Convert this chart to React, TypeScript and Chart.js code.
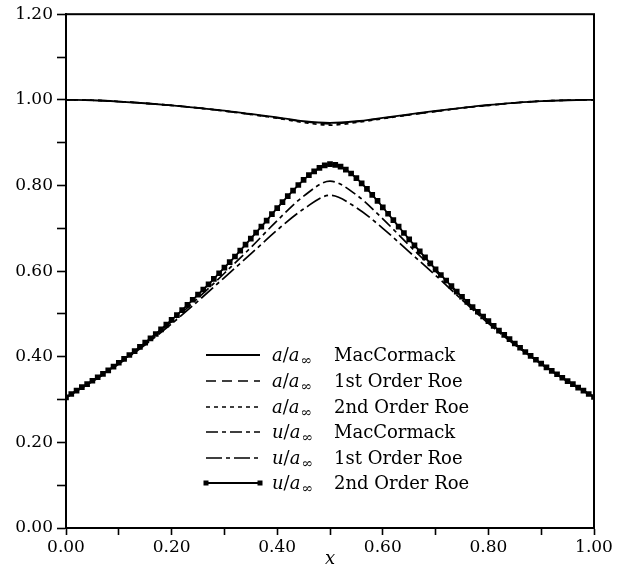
import { useEffect, useRef } from 'react';
import { Chart, registerables } from 'chart.js';

Chart.register(...registerables);

// ---------- data ----------
const X_COARSE = [0.0, 0.05, 0.1, 0.15, 0.2, 0.25, 0.3, 0.35, 0.4, 0.45, 0.5, 0.55, 0.6, 0.65, 0.7, 0.75, 0.8, 0.85, 0.9, 0.95, 1.0];

const X_FINE = [
  0.0, 0.01, 0.02, 0.03, 0.04, 0.05, 0.06, 0.07, 0.08, 0.09,
  0.1, 0.11, 0.12, 0.13, 0.14, 0.15, 0.16, 0.17, 0.18, 0.19,
  0.2, 0.21, 0.22, 0.23, 0.24, 0.25, 0.26, 0.27, 0.28, 0.29,
  0.3, 0.31, 0.32, 0.33, 0.34, 0.35, 0.36, 0.37, 0.38, 0.39,
  0.4, 0.41, 0.42, 0.43, 0.44, 0.45, 0.46, 0.47, 0.48, 0.49,
  0.5, 0.51, 0.52, 0.53, 0.54, 0.55, 0.56, 0.57, 0.58, 0.59,
  0.6, 0.61, 0.62, 0.63, 0.64, 0.65, 0.66, 0.67, 0.68, 0.69,
  0.7, 0.71, 0.72, 0.73, 0.74, 0.75, 0.76, 0.77, 0.78, 0.79,
  0.8, 0.81, 0.82, 0.83, 0.84, 0.85, 0.86, 0.87, 0.88, 0.89,
  0.9, 0.91, 0.92, 0.93, 0.94, 0.95, 0.96, 0.97, 0.98, 0.99,
  1.0,
];

const A_MACCORMACK = [1.0, 0.999, 0.996, 0.992, 0.987, 0.981, 0.975, 0.967, 0.959, 0.95, 0.946, 0.95, 0.958, 0.966, 0.974, 0.981, 0.988, 0.993, 0.997, 0.999, 1.0];
const A_ROE1 = [1.0, 0.999, 0.996, 0.992, 0.987, 0.981, 0.974, 0.966, 0.958, 0.949, 0.944, 0.949, 0.957, 0.965, 0.973, 0.981, 0.987, 0.993, 0.997, 0.999, 1.0];
const A_ROE2 = [1.0, 0.999, 0.996, 0.992, 0.987, 0.981, 0.974, 0.966, 0.957, 0.947, 0.941, 0.947, 0.956, 0.965, 0.973, 0.981, 0.987, 0.993, 0.997, 0.999, 1.0];

const U_MACCORMACK = [0.305, 0.343, 0.385, 0.431, 0.482, 0.537, 0.595, 0.655, 0.718, 0.775, 0.81, 0.778, 0.722, 0.66, 0.6, 0.538, 0.481, 0.43, 0.384, 0.342, 0.306];
const U_ROE1 = [0.305, 0.342, 0.383, 0.428, 0.477, 0.53, 0.585, 0.64, 0.696, 0.745, 0.777, 0.748, 0.7, 0.645, 0.59, 0.533, 0.478, 0.428, 0.383, 0.342, 0.306];

const U_ROE2 = [
  0.305, 0.313, 0.321, 0.329, 0.336, 0.344, 0.352, 0.36, 0.368, 0.377,
  0.386, 0.395, 0.404, 0.413, 0.423, 0.433, 0.443, 0.453, 0.464, 0.475,
  0.486, 0.497, 0.509, 0.521, 0.533, 0.545, 0.557, 0.569, 0.582, 0.595,
  0.608, 0.621, 0.634, 0.648, 0.662, 0.676, 0.69, 0.704, 0.718, 0.733,
  0.747, 0.761, 0.775, 0.788, 0.801, 0.813, 0.824, 0.833, 0.841, 0.847,
  0.85, 0.848, 0.844, 0.837, 0.828, 0.817, 0.805, 0.792, 0.778, 0.764,
  0.749, 0.734, 0.719, 0.704, 0.689, 0.674, 0.66, 0.646, 0.632, 0.618,
  0.604, 0.591, 0.578, 0.565, 0.552, 0.54, 0.528, 0.516, 0.505, 0.494,
  0.483, 0.472, 0.461, 0.451, 0.441, 0.431, 0.421, 0.411, 0.402, 0.393,
  0.384, 0.375, 0.367, 0.359, 0.351, 0.343, 0.336, 0.328, 0.321, 0.313,
  0.306,
];

const X_TICK_LABELS = ['0.00', '0.20', '0.40', '0.60', '0.80', '1.00'];
const Y_TICK_LABELS = ['0.00', '0.20', '0.40', '0.60', '0.80', '1.00', '1.20'];

const SERIES_SYMBOLS = ['a', 'a', 'a', 'u', 'u', 'u'];
const SERIES_NAMES = ['MacCormack', '1st Order Roe', '2nd Order Roe', 'MacCormack', '1st Order Roe', '2nd Order Roe'];

// ---------- styling ----------
const FONT = '"DejaVu Serif", "Liberation Serif", serif';

const pts = (xs: number[], ys: number[]) => xs.map((x, i) => ({ x, y: ys[i] }));

const tickCb = (labels: string[]) => (value: number) => {
  const i = Math.round(value * 10);
  return i % 2 === 0 ? labels[i / 2] ?? '' : '';
};

const legendPlugin = {
  id: 'paperDecor',
  afterDraw(chart: any) {
    const { ctx, chartArea } = chart;
    const { left, top, right, bottom } = chartArea;
    ctx.save();
    // frame
    ctx.strokeStyle = '#000';
    ctx.lineWidth = 2;
    ctx.setLineDash([]);
    ctx.strokeRect(left, top, right - left, bottom - top);

    // x axis title
    ctx.fillStyle = '#000';
    ctx.font = `italic 18px ${FONT}`;
    ctx.textAlign = 'center';
    ctx.textBaseline = 'alphabetic';
    ctx.fillText('x', (left + right) / 2, 564);

    // legend
    const rowY = [355, 381, 407, 432, 458, 483];
    const lineX0 = 206;
    const lineX1 = 260;
    const symX = 272;
    const textX = 334;
    ctx.textAlign = 'left';
    chart.data.datasets.forEach((ds: any, i: number) => {
      const y = rowY[i];
      ctx.save();
      ctx.strokeStyle = '#000';
      ctx.lineWidth = ds.borderWidth;
      ctx.setLineDash(ds.borderDash || []);
      ctx.beginPath();
      ctx.moveTo(lineX0, y);
      ctx.lineTo(lineX1, y);
      ctx.stroke();
      ctx.restore();
      if (ds.pointRadius > 0) {
        const s = 5;
        ctx.fillRect(lineX0 - s / 2, y - s / 2, s, s);
        ctx.fillRect(lineX1 - s / 2, y - s / 2, s, s);
      }
      const base = y + 6;
      let x = symX;
      ctx.font = `italic 18px ${FONT}`;
      ctx.fillText(SERIES_SYMBOLS[i], x, base);
      x += ctx.measureText(SERIES_SYMBOLS[i]).width;
      ctx.font = `18px ${FONT}`;
      ctx.fillText('/', x, base);
      x += ctx.measureText('/').width;
      ctx.font = `italic 18px ${FONT}`;
      ctx.fillText('a', x, base);
      x += ctx.measureText('a').width + 1;
      ctx.font = `14px ${FONT}`;
      ctx.fillText('\u221E', x, base + 4);
      ctx.font = `18px ${FONT}`;
      ctx.fillText(SERIES_NAMES[i], textX, base);
    });
    ctx.restore();
  },
};

export default function App() {
  const canvasRef = useRef<HTMLCanvasElement | null>(null);

  useEffect(() => {
    if (!canvasRef.current) return;
    const common = {
      borderColor: '#000',
      backgroundColor: '#000',
      fill: false,
      pointRadius: 0,
      pointHoverRadius: 0,
    };
    const chart = new Chart(canvasRef.current, {
      type: 'line',
      data: {
        datasets: [
          { ...common, label: 'a/a∞ MacCormack', data: pts(X_COARSE, A_MACCORMACK), borderWidth: 1.8, borderDash: [], cubicInterpolationMode: 'monotone' },
          { ...common, label: 'a/a∞ 1st Order Roe', data: pts(X_COARSE, A_ROE1), borderWidth: 1.7, borderDash: [10, 6], cubicInterpolationMode: 'monotone' },
          { ...common, label: 'a/a∞ 2nd Order Roe', data: pts(X_COARSE, A_ROE2), borderWidth: 1.7, borderDash: [4, 4], cubicInterpolationMode: 'monotone' },
          { ...common, label: 'u/a∞ MacCormack', data: pts(X_COARSE, U_MACCORMACK), borderWidth: 1.7, borderDash: [12, 4, 4, 4], cubicInterpolationMode: 'monotone' },
          { ...common, label: 'u/a∞ 1st Order Roe', data: pts(X_COARSE, U_ROE1), borderWidth: 1.7, borderDash: [16, 4, 4, 4], cubicInterpolationMode: 'monotone' },
          {
            ...common,
            label: 'u/a∞ 2nd Order Roe',
            data: pts(X_FINE, U_ROE2),
            borderWidth: 1.8,
            borderDash: [],
            tension: 0,
            pointRadius: 4,
            pointStyle: 'rect',
            pointBorderWidth: 0,
            pointBackgroundColor: '#000',
          },
        ],
      },
      options: {
        animation: false,
        responsive: true,
        maintainAspectRatio: false,
        devicePixelRatio: 1,
        layout: { padding: { top: 13, right: 30, left: 0, bottom: 0 } },
        plugins: { legend: { display: false }, tooltip: { enabled: false }, title: { display: false } },
        events: [],
        scales: {
          x: {
            type: 'linear',
            min: 0,
            max: 1,
            ticks: {
              stepSize: 0.1,
              autoSkip: false,
              maxRotation: 0,
              color: '#000',
              font: { family: FONT, size: 17 },
              padding: 2,
              callback: tickCb(X_TICK_LABELS),
            },
            grid: { drawOnChartArea: false, drawTicks: true, tickLength: 7, tickColor: '#000', tickWidth: 1.6 },
            border: { display: true, color: '#000', width: 2 },
            afterFit: (scale: any) => { scale.height = 43; },
          },
          y: {
            type: 'linear',
            min: 0,
            max: 1.2,
            ticks: {
              stepSize: 0.1,
              autoSkip: false,
              color: '#000',
              font: { family: FONT, size: 17 },
              padding: 4,
              callback: tickCb(Y_TICK_LABELS),
            },
            grid: { drawOnChartArea: false, drawTicks: true, tickLength: 9, tickColor: '#000', tickWidth: 1.6 },
            border: { display: true, color: '#000', width: 2 },
            afterFit: (scale: any) => { scale.width = 66; },
          },
        },
      } as any,
      plugins: [legendPlugin],
    });
    return () => chart.destroy();
  }, []);

  return (
    <div style={{ position: 'absolute', left: 0, top: 0, width: 624, height: 571, background: '#fff' }}>
      <canvas ref={canvasRef} />
    </div>
  );
}
